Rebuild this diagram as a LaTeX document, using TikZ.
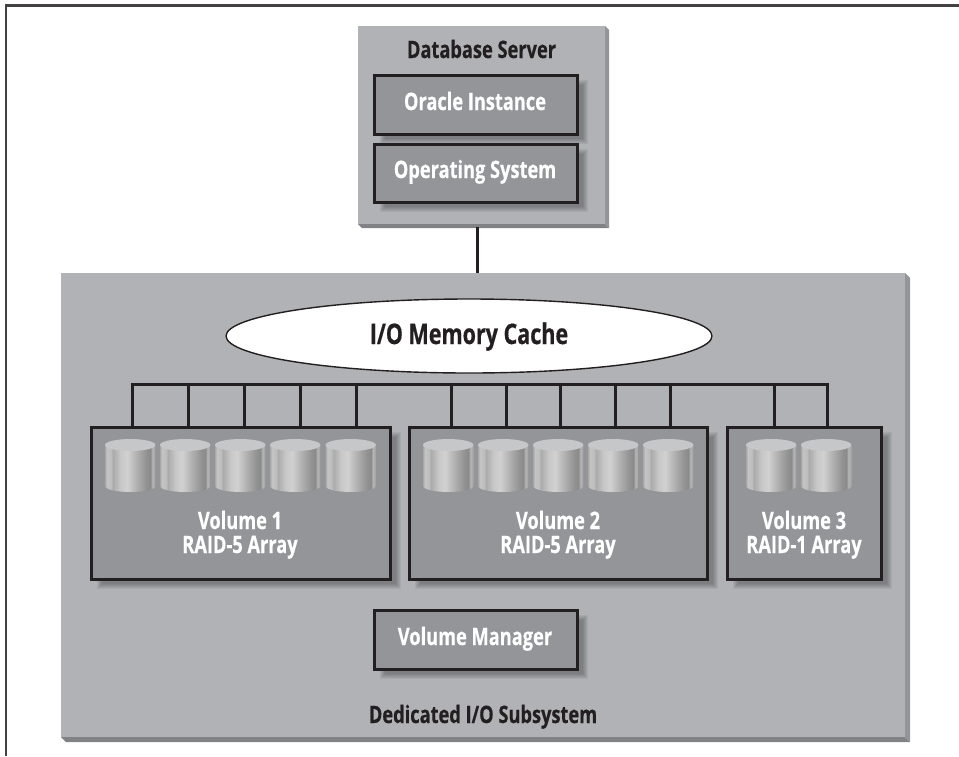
\documentclass[tikz,border=0pt]{standalone}
\usepackage{fontspec}
\setmainfont{Open Sans}[BoldFont={Open Sans Bold},BoldFeatures={FakeStretch=0.76,FakeBold=0.5}]
\usetikzlibrary{calc,shapes.geometric}
\definecolor{panelc}{HTML}{B1B2B5}
\definecolor{boxc}{HTML}{939598}
\definecolor{inkc}{HTML}{231F20}
\definecolor{bevelb}{HTML}{808285}
\definecolor{bevelr}{HTML}{939598}
\definecolor{topc}{HTML}{C6C7C9}
\pgfdeclarehorizontalshading{cylshade}{100bp}{
 gray(0bp)=(0.66);
 gray(25bp)=(0.66);
 gray(27bp)=(0.77);
 gray(31bp)=(0.74);
 gray(33bp)=(0.67);
 gray(40bp)=(0.78);
 gray(47bp)=(0.82);
 gray(55bp)=(0.71);
 gray(65bp)=(0.585);
 gray(70bp)=(0.54);
 gray(72bp)=(0.71);
 gray(75bp)=(0.63);
 gray(100bp)=(0.63)}
\tikzset{
 x=1pt,y=-1pt,
 panel/.style={fill=panelc,inner sep=0pt,outer sep=0pt},
 darkbox/.style={draw=inkc,fill=boxc,line width=3pt,inner sep=0pt,outer sep=0pt},
 wire/.style={draw=inkc,line width=3pt},
 darklabel/.style={text=inkc,font=\bfseries\fontsize{24}{24}\selectfont,align=center,inner sep=0pt,anchor=base},
 whitelabel/.style={text=white,font=\bfseries\fontsize{24}{24}\selectfont,align=center,inner sep=0pt,anchor=base},
}
% name, x0, y0, x1, y1
\newcommand{\shadedbox}[5]{%
 \foreach \g in {0,1,2,3,4,5}{%
  \fill[black,opacity=.05] ({#2+11-\g},{#3+10-\g}) rectangle ({#4+6+\g},{#5+5+\g});
 }%
 \node[darkbox,minimum width={(#4-#2)*1pt},minimum height={(#5-#3)*1pt}] (#1) at ({(#2+#4)/2},{(#3+#5)/2}) {};
}
% name, x0, y0, x1, y1, bevel
\newcommand{\bevelpanel}[6]{%
 \node[panel,minimum width={(#4-#2)*1pt},minimum height={(#5-#3)*1pt}] (#1) at ({(#2+#4)/2},{(#3+#5)/2}) {};
 \fill[bevelr] (#1.north east) -- ++(#6,#6) -- ($(#1.south east)+(#6,#6)$) -- (#1.south east) -- cycle;
 \fill[bevelb] (#1.south west) -- ++(#6,#6) -- ($(#1.south east)+(#6,#6)$) -- (#1.south east) -- cycle;
}
% left x
\newcommand{\cyl}[1]{%
 \shade[shading=cylshade] (#1,445) -- (#1,486) arc[start angle=180,end angle=360,x radius=25.2,y radius=-6] -- ({#1+50.4},445) -- cycle;
 \fill[topc] ({#1+25.2},445) ellipse[x radius=25.2,y radius=6];
}
\begin{document}
\begin{tikzpicture}
\useasboundingbox (0,0) rectangle (959,756);
\fill[white] (0,0) rectangle (959,756);
\draw[inkc!85!white,line width=2.2pt] (959,5.5) -- (6,5.5) -- (6,756);

\bevelpanel{srv}{358}{26}{605}{224}{4}
\coordinate (uplink) at (477.5,250);
\bevelpanel{sub}{61}{273}{905}{737}{5}
\draw[wire] ([yshift=-3pt]srv.south -| uplink) -- (sub.north -| uplink);

\node[darklabel] (srvlabel) at (481.5,58) {Database Server};
\shadedbox{ora}{374}{75}{577}{134}
\node[whitelabel] (oralabel) at (475,110) {Oracle Instance};
\shadedbox{os}{374}{144}{577}{202}
\node[whitelabel] (oslabel) at (475,178) {Operating System};

\node[draw=inkc,fill=white,line width=1.4pt,ellipse,minimum width=486pt,minimum height=74pt,inner sep=0pt] (cache) at (469,336) {};
\node[text=inkc,font=\bfseries\fontsize{28.3}{30}\selectfont,inner sep=0pt,anchor=base] (cachelabel) at (469,344) {I/O Memory Cache};

% volumes
\shadedbox{vola}{91}{427}{390}{579}
\shadedbox{volb}{409}{427}{707}{579}
\shadedbox{volc}{727}{427}{881}{579}

% bus
\foreach \n/\x in {a1/132.5,a2/188.5,a3/244.5,a4/300.5,a5/356.5,b1/451.5,b2/506.5,b3/560.5,b4/615.5,b5/670.5,c1/774.5,c2/827.5}{
 \coordinate (bus\n) at (\x,384.5);
}
\draw[wire,line join=miter] (busa1 |- vola.north) -- (busa1) -- (busc2) -- (busc2 |- volc.north);
\foreach \n in {a2,a3,a4,a5}{\draw[wire] (bus\n) -- (bus\n |- vola.north);}
\foreach \n in {b1,b2,b3,b4,b5}{\draw[wire] (bus\n) -- (bus\n |- volb.north);}
\draw[wire] (busc1) -- (busc1 |- volc.north);

\foreach \x in {105,160,215,270,325.5,423,478,533,588,643,746,801}{\cyl{\x}}

\node[whitelabel] (volalabel) at (240,553) {Volume 1\\RAID-5 Array};
\node[whitelabel] (volblabel) at (558,553) {Volume 2\\RAID-5 Array};
\node[whitelabel] (volclabel) at (804,553) {Volume 3\\RAID-1 Array};

\shadedbox{vm}{374}{610}{577}{669}
\node[whitelabel] (vmlabel) at (475,645) {Volume Manager};
\node[darklabel] (sublabel) at (483,723) {Dedicated I/O Subsystem};
\end{tikzpicture}
\end{document}
